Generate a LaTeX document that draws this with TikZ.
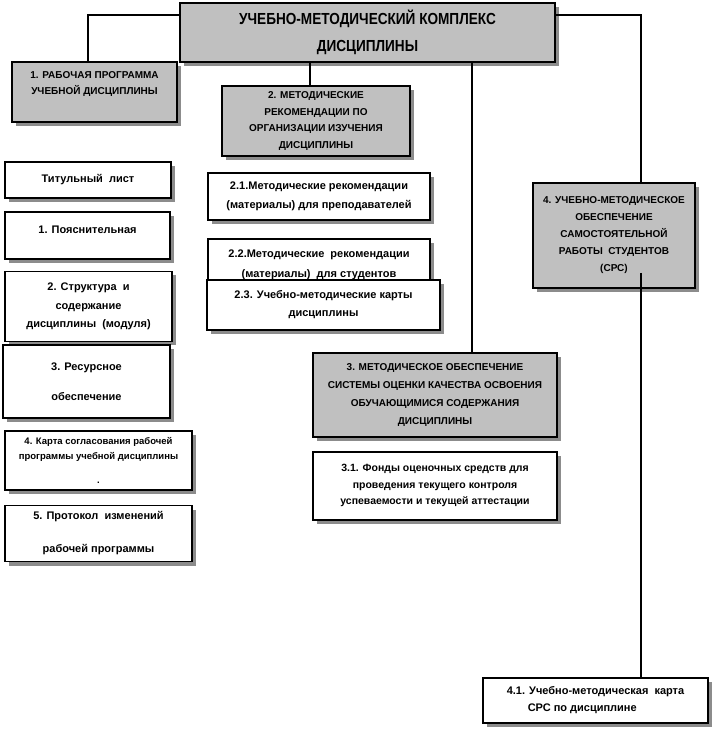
\documentclass[tikz,border=0pt]{standalone}
\usepackage{fontspec}
\setmainfont{Liberation Sans}
\newfontfamily\titlefont[FakeStretch=0.85]{Liberation Sans}
\usetikzlibrary{positioning,shadows}
\definecolor{headgray}{HTML}{C0C0C0}
\definecolor{shadegray}{HTML}{8C8C8C}
\tikzset{
  box/.style={draw=black,line width=1.7pt,fill=white,align=center,inner sep=0pt,
    drop shadow={shadow xshift=4pt,shadow yshift=-4pt,fill=shadegray,opacity=1},
    font=\bfseries\fontsize{11}{19}\selectfont},
  headbox/.style={box,fill=headgray,font=\bfseries\fontsize{10}{17}\selectfont},
  titlebox/.style={headbox,font=\titlefont\bfseries\fontsize{16}{27}\selectfont},
  link/.style={draw=black,line width=1.4pt}
}
\begin{document}
\begin{tikzpicture}[x=1pt,y=-1pt]
  \useasboundingbox (0,0) rectangle (713,734);
  % headers
  \node[titlebox,minimum width=375pt,minimum height=59pt] (umk) at (367.5,32.5) {УЧЕБНО-МЕТОДИЧЕСКИЙ КОМПЛЕКС\\ДИСЦИПЛИНЫ};
  \node[headbox,minimum width=165pt,minimum height=60pt,font=\bfseries\fontsize{10}{16}\selectfont] (rabprog) at (94.5,92) {1. РАБОЧАЯ ПРОГРАММА\\УЧЕБНОЙ ДИСЦИПЛИНЫ\\[2pt]\mbox{}};
  \node[headbox,minimum width=188pt,minimum height=70pt,font=\bfseries\fontsize{10}{16.7}\selectfont] (metrek) at (316,121) {2. МЕТОДИЧЕСКИЕ\\РЕКОМЕНДАЦИИ ПО\\ОРГАНИЗАЦИИ ИЗУЧЕНИЯ\\ДИСЦИПЛИНЫ};
  \node[headbox,minimum width=244pt,minimum height=84pt,font=\bfseries\fontsize{10}{17.7}\selectfont] (ocenka) at (435,395) {3. МЕТОДИЧЕСКОЕ ОБЕСПЕЧЕНИЕ\\СИСТЕМЫ ОЦЕНКИ КАЧЕСТВА ОСВОЕНИЯ\\ОБУЧАЮЩИМИСЯ СОДЕРЖАНИЯ\\ДИСЦИПЛИНЫ};
  \node[headbox,minimum width=162pt,minimum height=105pt] (srs) at (614,235.5) {4. УЧЕБНО-МЕТОДИЧЕСКОЕ\\ОБЕСПЕЧЕНИЕ\\САМОСТОЯТЕЛЬНОЙ\\РАБОТЫ\ \ СТУДЕНТОВ\\(СРС)};
  % left column
  \node[box,minimum width=166pt,minimum height=36pt] (titul) at (88,180) {Титульный\ \ лист};
  \node[box,minimum width=165pt,minimum height=47pt,below right=12pt and 0pt of titul.south west] (poyasn) {1. Пояснительная\\[-8pt]\mbox{}};
  \node[box,minimum width=167pt,minimum height=70pt,font=\bfseries\fontsize{11}{18.5}\selectfont,below right=11pt and 0pt of poyasn.south west] (struct) {2. Структура\ \ и\\содержание\\дисциплины\ \ (модуля)};
  \node[box,minimum width=167pt,minimum height=73pt,below right=2pt and -2pt of struct.south west] (resurs) {3. Ресурсное\\[11pt]обеспечение};
  \node[box,minimum width=187pt,minimum height=59pt,font=\bfseries\fontsize{9.5}{15}\selectfont,below right=11pt and 2pt of resurs.south west] (karta) {4. Карта согласования рабочей\\программы учебной дисциплины\\[9pt].};
  \node[box,minimum width=187pt,minimum height=56pt,below right=14pt and 0pt of karta.south west] (protokol) {5. Протокол\ \ изменений\\[14pt]рабочей программы};
  % middle column
  \node[box,minimum width=222pt,minimum height=47pt] (rekprep) at (319,196.5) {2.1.Методические рекомендации\\(материалы) для преподавателей};
  \node[box,minimum width=222pt,minimum height=53pt,font=\bfseries\fontsize{11}{20}\selectfont,below right=17pt and 0pt of rekprep.south west] (rekstud) {2.2.Методические\ \ рекомендации\\(материалы)\ \ для студентов};
  \node[box,minimum width=233pt,minimum height=50pt,font=\bfseries\fontsize{11}{18}\selectfont] (karty) at (323.5,305) {2.3. Учебно-методические карты\\дисциплины};
  \node[box,minimum width=244pt,minimum height=68pt,font=\bfseries\fontsize{10.5}{16.5}\selectfont,below=13pt of ocenka] (fos) {3.1. Фонды оценочных средств для\\проведения текущего контроля\\успеваемости и текущей аттестации};
  \node[box,minimum width=225pt,minimum height=45pt,align=left,font=\bfseries\fontsize{11}{17}\selectfont] (kartasrs) at (595.5,700.5) {4.1. Учебно-методическая\ \ карта\\\hspace*{21pt}СРС по дисциплине};
  % connectors
  \draw[link] ([yshift=17.5pt]umk.west) -| ([xshift=-6.5pt]rabprog.north);
  \draw[link] ([xshift=-6pt]metrek.north) -- ([xshift=-6pt]metrek.north |- umk.south);
  \draw[link] ([xshift=37pt]ocenka.north) -- ([xshift=37pt]ocenka.north |- umk.south);
  \draw[link] ([yshift=17.5pt]umk.east) -| ([xshift=27pt]srs.north);
  \draw[link] ([xshift=27pt,yshift=16pt]srs.south) -- ([xshift=27pt]srs.south |- kartasrs.north);
\end{tikzpicture}
\end{document}
